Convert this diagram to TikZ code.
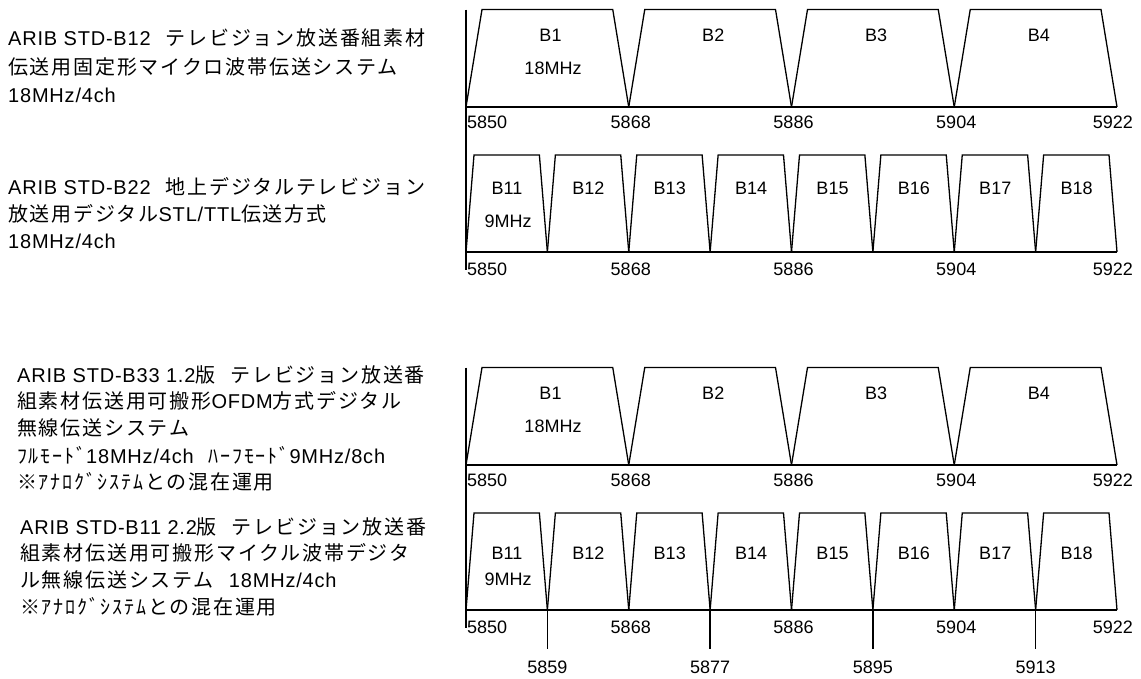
\documentclass[tikz,border=0pt]{standalone}
\usepackage{fontspec}
\setmainfont{Liberation Sans}
\newfontfamily\jp[LetterSpace=9]{Noto Sans CJK JP}
\newfontfamily\lat[LetterSpace=4]{Liberation Sans}
\newcommand{\la}[1]{{\lat #1}}
\newcommand{\gap}{\hspace{15pt}}
\begin{document}
\begin{tikzpicture}[x=1pt,y=-1pt,
  trap/.style={line width=1.3pt, line join=miter},
  axisln/.style={line width=1.8pt},
  vline/.style={line width=1.3pt},
  lbl/.style={font=\fontsize{18}{18}\selectfont, inner sep=0pt, text height=13pt, text depth=0pt},
  jt/.style={font=\jp\fontsize{20}{20}\selectfont, inner sep=0pt, anchor=base west}]
\useasboundingbox (0,0) rectangle (1141,678);
\fill[white] (0,0) rectangle (1141,678);

% ---------- left texts ----------
\node[jt] (t1a) at (8,45.5) {\la{ARIB STD-B12}\gap テレビジョン放送番組素材};
\node[jt] (t1b) at (8,74) {伝送用固定形マイクロ波帯伝送システム};
\node[jt] (t1c) at (8,102.5) {\la{18MHz/4ch}};
\node[jt] (t2a) at (8,194.5) {\la{ARIB STD-B22}\gap 地上デジタルテレビジョン};
\node[jt] (t2b) at (8,221.5) {放送用デジタル\la{STL/TTL}伝送方式};
\node[jt] (t2c) at (8,248.5) {\la{18MHz/4ch}};
\node[jt] (t3a) at (17,382.5) {\la{ARIB STD-B33 1.2}版\gap テレビジョン放送番};
\node[jt] (t3b) at (17,408.5) {組素材伝送用可搬形\la{OFDM}方式デジタル};
\node[jt] (t3c) at (17,435.5) {無線伝送システム};
\node[jt] (t3d) at (17,463.5) {ﾌﾙﾓｰﾄﾞ\la{18MHz/4ch}\gap ﾊｰﾌﾓｰﾄﾞ\la{9MHz/8ch}};
\node[jt] (t3e) at (17,489.5) {※ｱﾅﾛｸﾞｼｽﾃﾑとの混在運用};
\node[jt] (t4a) at (20,534.5) {\la{ARIB STD-B11 2.2}版\gap テレビジョン放送番};
\node[jt] (t4b) at (20,560.5) {組素材伝送用可搬形マイクル波帯デジタ};
\node[jt] (t4c) at (20,587.5) {ル無線伝送システム\gap\la{18MHz/4ch}};
\node[jt] (t4d) at (20,614.5) {※ｱﾅﾛｸﾞｼｽﾃﾑとの混在運用};

% ---------- groups (top: dy=0, bottom: dy=358) ----------
\foreach \g/\dy/\vend in {a/0/270, b/358/628} {
  % vertical reference line
  \draw[vline] (466,9.5+\dy) -- (466,\vend);
  % 18 MHz panel
  \draw[axisln] (466,107+\dy) -- (1117,107+\dy);
  \foreach \i/\t in {0/B1,1/B2,2/B3,3/B4} {
    \pgfmathsetmacro\xl{466+162.75*\i}
    \draw[trap] (\xl,107+\dy) -- (\xl+16,9.5+\dy) -- (\xl+146.75,9.5+\dy) -- (\xl+162.75,107+\dy);
    \node[lbl] (\g w\i) at (\xl+84.5,35+\dy) {\t};
  }
  \node[lbl] (\g wmhz) at (553,68+\dy) {18MHz};
  \node[lbl, anchor=west] (\g wf0) at (467,121.5+\dy) {5850};
  \foreach \i/\t in {1/5868,2/5886,3/5904} {
    \node[lbl] (\g wf\i) at (466+162.75*\i+2,121.5+\dy) {\t};
  }
  \node[lbl, anchor=east] (\g wf4) at (1133,121.5+\dy) {5922};
  % 9 MHz panel
  \draw[axisln] (466,252+\dy) -- (1117,252+\dy);
  \foreach \i/\t in {0/B11,1/B12,2/B13,3/B14,4/B15,5/B16,6/B17,7/B18} {
    \pgfmathsetmacro\xl{466+81.375*\i}
    \draw[trap] (\xl,252+\dy) -- (\xl+8,155+\dy) -- (\xl+73.375,155+\dy) -- (\xl+81.375,252+\dy);
  }
  \node[lbl, anchor=west] (\g nf0) at (467,268.5+\dy) {5850};
  \foreach \i/\t in {1/5868,2/5886,3/5904} {
    \node[lbl] (\g nf\i) at (466+162.75*\i+2,268.5+\dy) {\t};
  }
  \node[lbl, anchor=east] (\g nf4) at (1133,268.5+\dy) {5922};
}

% channel labels of the 9 MHz panels
\foreach \i/\t in {0/B11,1/B12,2/B13,3/B14,4/B15,5/B16,6/B17,7/B18} {
  \node[lbl] (an\i) at (466+81.375*\i+41,188) {\t};
  \node[lbl] (bn\i) at (466+81.375*\i+41,553) {\t};
}
\node[lbl] (anmhz) at (508,221) {9MHz};
\node[lbl] (bnmhz) at (508,579) {9MHz};

% extended ticks with centre frequencies
\foreach \i/\t in {1/5859,3/5877,5/5895,7/5913} {
  \coordinate (tk\i) at (466+81.375*\i,610);
  \coordinate (te\i) at (466+81.375*\i,649);
  \draw[vline] (tk\i) -- (te\i);
  \node[lbl] (tl\i) at (466+81.375*\i,667) {\t};
}
\end{tikzpicture}
\end{document}
